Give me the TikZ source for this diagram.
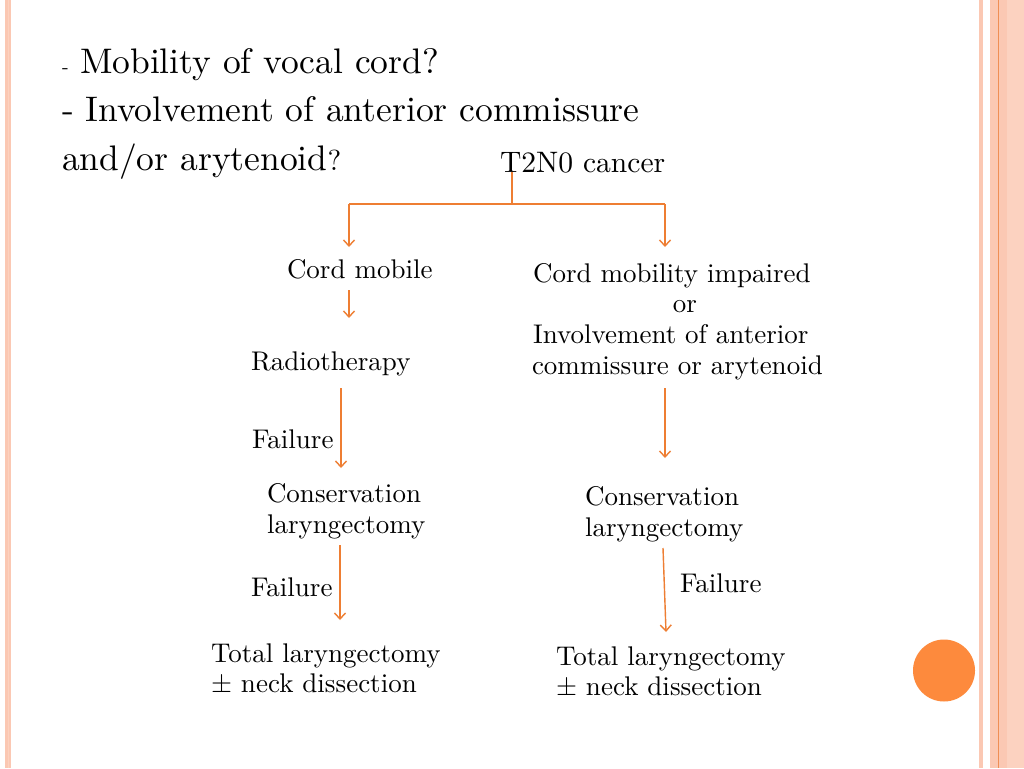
\documentclass[tikz,border=0pt]{standalone}
\usetikzlibrary{arrows.meta}
\definecolor{arr}{HTML}{EE7E33}
\definecolor{peach}{HTML}{FBC8B3}
\definecolor{peachlight}{HTML}{FCD2C0}
\definecolor{stripeline}{HTML}{EF8E55}
\definecolor{dot}{HTML}{FD8A3D}
\font\titlefont="[lmroman10-regular]:mapping=tex-text" at 35.5pt
\font\smalldash="[lmroman10-regular]:mapping=tex-text" at 20pt
\font\qfont="[lmroman10-regular]:mapping=tex-text" at 29pt
\font\headfont="[lmroman10-regular]:mapping=tex-text" at 29.6pt
\font\bodyfont="[lmroman10-regular]:mapping=tex-text" at 27pt
\begin{document}
\begin{tikzpicture}[x=1pt,y=-1pt,
  txt/.style={anchor=base west,inner sep=0pt,outer sep=0pt,font=\bodyfont},
  ttl/.style={anchor=base west,inner sep=0pt,outer sep=0pt,font=\titlefont},
  flow/.style={draw=arr,line width=1.4pt,-{Straight Barb[length=6pt,width=11pt]}},
  link/.style={draw=arr,line width=1.4pt}]
% page and border stripes
\fill[white] (0,0) rectangle (1024,768);
\useasboundingbox (0,0) rectangle (1024,768);
\fill[peach] (5,0) rectangle (11,768);
\fill[peachlight] (7.5,0) rectangle (9,768);
\fill[peach] (979,0) rectangle (983,768);
\fill[peach] (990,0) rectangle (1007.3,768);
\fill[stripeline] (998.2,0) rectangle (999.3,768);
\fill[peachlight] (1007.3,0) rectangle (1024,768);
\fill[dot] (944,670.5) circle (31);
% title text
\node[ttl,font=\smalldash] (d1) at (62,73) {-};
\node[ttl] (l1) at (80,73) {Mobility of vocal cord?};
\node[ttl] (l2) at (62,121) {- Involvement of anterior commissure};
\node[ttl] (l3) at (62,170) {and/or arytenoid{\qfont ?}};
\node[txt,font=\headfont] (t2) at (500,172) {T2N0 cancer};
% left branch
\node[txt] (cm) at (287,278) {Cord mobile};
\node[txt] (rt) at (251,370) {Radiotherapy};
\node[txt] (f1) at (252,448) {Failure};
\node[txt] (cl1) at (267,502) {Conservation};
\node[txt] (cl2) at (267,533) {laryngectomy};
\node[txt] (f2) at (251,596) {Failure};
\node[txt] (tl1) at (211,662) {Total laryngectomy};
\node[txt] (tl2) at (211,692) {± neck dissection};
% right branch
\node[txt] (r1) at (533,282) {Cord mobility impaired};
\node[txt,anchor=base] (r2) at (685,312) {or};
\node[txt] (r3) at (533,343) {Involvement of anterior};
\node[txt] (r4) at (532,374) {commissure or arytenoid};
\node[txt] (rc1) at (585,505) {Conservation};
\node[txt] (rc2) at (585,536) {laryngectomy};
\node[txt] (rf) at (680,592) {Failure};
\node[txt] (rt1) at (556,665) {Total laryngectomy};
\node[txt] (rt2) at (556,695) {± neck dissection};
% connector points
\coordinate (top) at (512,172);
\coordinate (junc) at (512,204);
\coordinate (jl) at (349,204);
\coordinate (jr) at (665,204);
\coordinate (al) at (349,247);
\coordinate (ar) at (665,247);
\coordinate (a1s) at (349,290);
\coordinate (a1e) at (349,318);
\coordinate (a2s) at (341,388);
\coordinate (a2e) at (341,468);
\coordinate (a3s) at (340,545);
\coordinate (a3e) at (340,620);
\coordinate (b1s) at (665,388);
\coordinate (b1e) at (665,458);
\coordinate (b2s) at (663,548);
\coordinate (b2e) at (666,632);
% connectors
\draw[link] (top) -- (junc);
\draw[link] (jl) -- (jr);
\draw[flow] (jl) -- (al);
\draw[flow] (jr) -- (ar);
\draw[flow] (a1s) -- (a1e);
\draw[flow] (a2s) -- (a2e);
\draw[flow] (a3s) -- (a3e);
\draw[flow] (b1s) -- (b1e);
\draw[flow] (b2s) -- (b2e);
\end{tikzpicture}
\end{document}
